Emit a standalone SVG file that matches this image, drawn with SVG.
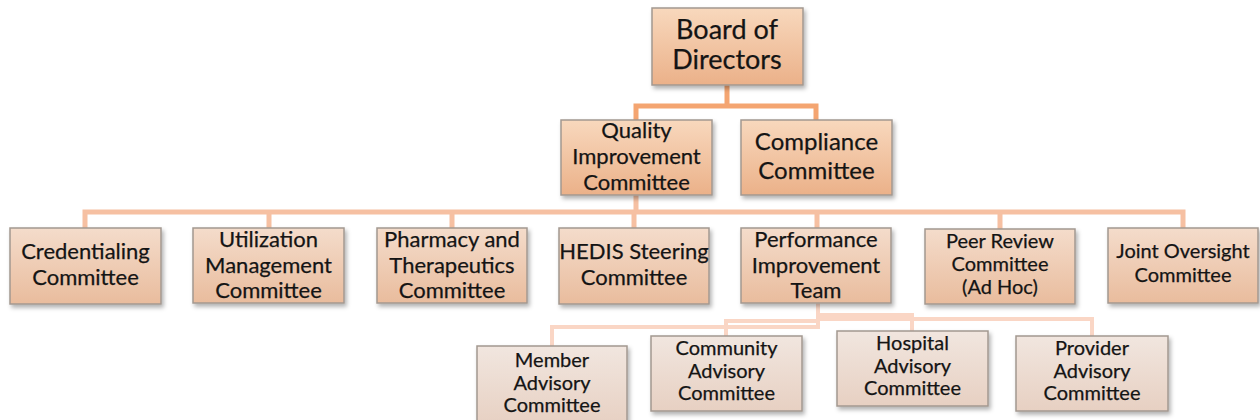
<svg xmlns="http://www.w3.org/2000/svg" width="1260" height="420" viewBox="0 0 1260 420">
  <defs>
    <linearGradient id="gTop" x1="0" y1="0" x2="0" y2="1">
      <stop offset="0" stop-color="#f8d8bd"/>
      <stop offset="1" stop-color="#ebb189"/>
    </linearGradient>
    <linearGradient id="gMid" x1="0" y1="0" x2="0" y2="1">
      <stop offset="0" stop-color="#f4dccb"/>
      <stop offset="1" stop-color="#e9bc9d"/>
    </linearGradient>
    <linearGradient id="gLow" x1="0" y1="0" x2="0" y2="1">
      <stop offset="0" stop-color="#f1e6df"/>
      <stop offset="1" stop-color="#e7d0c2"/>
    </linearGradient>
    <filter id="shadow" x="-10%" y="-10%" width="125%" height="135%">
      <feDropShadow dx="2" dy="3" stdDeviation="2" flood-color="#000" flood-opacity="0.3"/>
    </filter>
  </defs>
  <style>
    .box { stroke: #a39890; stroke-width: 1.5; filter: url(#shadow); }
    .top { fill: url(#gTop); }
    .mid { fill: url(#gMid); }
    .low { fill: url(#gLow); }
    text { font-family: Lato, "Open Sans", "Liberation Sans", sans-serif; fill: #141414; text-anchor: middle; stroke: #141414; stroke-width: 0.25; }
    .t24 { font-size: 27px; }
    .t22 { font-size: 24px; }
    .t20 { font-size: 22px; }
    .t18 { font-size: 20px; }
    .c1 { fill: none; stroke: #f4a571; stroke-width: 5; }
    .c2 { fill: none; stroke: #f6c0a2; stroke-width: 5; }
    .c3 { fill: none; stroke: #fad6c5; stroke-width: 4; }
  </style>

  <!-- connectors -->
  <g id="connectors">
    <path class="c1" d="M727 85 V106 M636 120 V106 H816 V120"/>
    <path class="c2" d="M636 195 V212 M85 228 V212 H1183 V228 M269 212 V228 M452 212 V228 M634 212 V228 M817 212 V228 M1000 212 V229"/>
    <path class="c3" d="M818 303 V327 H552 V346"/>
    <path class="c3" d="M818 303 V321 H726 V336"/>
    <path class="c3" d="M818 303 V315 H912 V331"/>
    <path class="c3" d="M818 303 V319 H1092 V336"/>
  </g>

  <!-- level 1 -->
  <g id="board">
    <rect class="box top" x="652" y="8" width="151" height="77"/>
    <text class="t24" x="727" y="39">Board of</text>
    <text class="t24" x="727" y="69">Directors</text>
  </g>

  <!-- level 2 -->
  <g id="quality">
    <rect class="box top" x="561" y="120" width="151" height="75"/>
    <text class="t20" x="636.5" y="138">Quality</text>
    <text class="t20" x="636.5" y="164">Improvement</text>
    <text class="t20" x="636.5" y="190">Committee</text>
  </g>
  <g id="compliance">
    <rect class="box top" x="741" y="120" width="151" height="75"/>
    <text class="t22" x="816.5" y="150">Compliance</text>
    <text class="t22" x="816.5" y="179">Committee</text>
  </g>

  <!-- level 3 -->
  <g id="credentialing">
    <rect class="box mid" x="10" y="228" width="151" height="76"/>
    <text class="t20" x="85.5" y="259">Credentialing</text>
    <text class="t20" x="85.5" y="285">Committee</text>
  </g>
  <g id="utilization">
    <rect class="box mid" x="193" y="228" width="151" height="75"/>
    <text class="t20" x="268.5" y="247">Utilization</text>
    <text class="t20" x="268.5" y="273">Management</text>
    <text class="t20" x="268.5" y="298">Committee</text>
  </g>
  <g id="pharmacy">
    <rect class="box mid" x="377" y="228" width="150" height="75"/>
    <text class="t20" x="452" y="247">Pharmacy and</text>
    <text class="t20" x="452" y="273">Therapeutics</text>
    <text class="t20" x="452" y="298">Committee</text>
  </g>
  <g id="hedis">
    <rect class="box mid" x="559" y="228" width="150" height="76"/>
    <text class="t20" x="634" y="259">HEDIS Steering</text>
    <text class="t20" x="634" y="285">Committee</text>
  </g>
  <g id="performance">
    <rect class="box mid" x="741" y="228" width="150" height="75"/>
    <text class="t20" x="816" y="247">Performance</text>
    <text class="t20" x="816" y="273">Improvement</text>
    <text class="t20" x="816" y="298">Team</text>
  </g>
  <g id="peer-review">
    <rect class="box mid" x="925" y="229" width="150" height="75"/>
    <text class="t18" x="1000" y="248">Peer Review</text>
    <text class="t18" x="1000" y="271">Committee</text>
    <text class="t18" x="1000" y="294">(Ad Hoc)</text>
  </g>
  <g id="joint-oversight">
    <rect class="box mid" x="1108" y="228" width="150" height="75"/>
    <text class="t18" x="1183" y="258">Joint Oversight</text>
    <text class="t18" x="1183" y="282">Committee</text>
  </g>

  <!-- level 4 -->
  <g id="member">
    <rect class="box low" x="477" y="346" width="150" height="80"/>
    <text class="t18" x="552" y="367">Member</text>
    <text class="t18" x="552" y="390">Advisory</text>
    <text class="t18" x="552" y="412">Committee</text>
  </g>
  <g id="community">
    <rect class="box low" x="651" y="336" width="151" height="75"/>
    <text class="t18" x="726.5" y="355">Community</text>
    <text class="t18" x="726.5" y="378">Advisory</text>
    <text class="t18" x="726.5" y="400">Committee</text>
  </g>
  <g id="hospital">
    <rect class="box low" x="837" y="331" width="151" height="75"/>
    <text class="t18" x="912.5" y="350">Hospital</text>
    <text class="t18" x="912.5" y="373">Advisory</text>
    <text class="t18" x="912.5" y="395">Committee</text>
  </g>
  <g id="provider">
    <rect class="box low" x="1016" y="336" width="152" height="75"/>
    <text class="t18" x="1092" y="355">Provider</text>
    <text class="t18" x="1092" y="378">Advisory</text>
    <text class="t18" x="1092" y="400">Committee</text>
  </g>
</svg>
